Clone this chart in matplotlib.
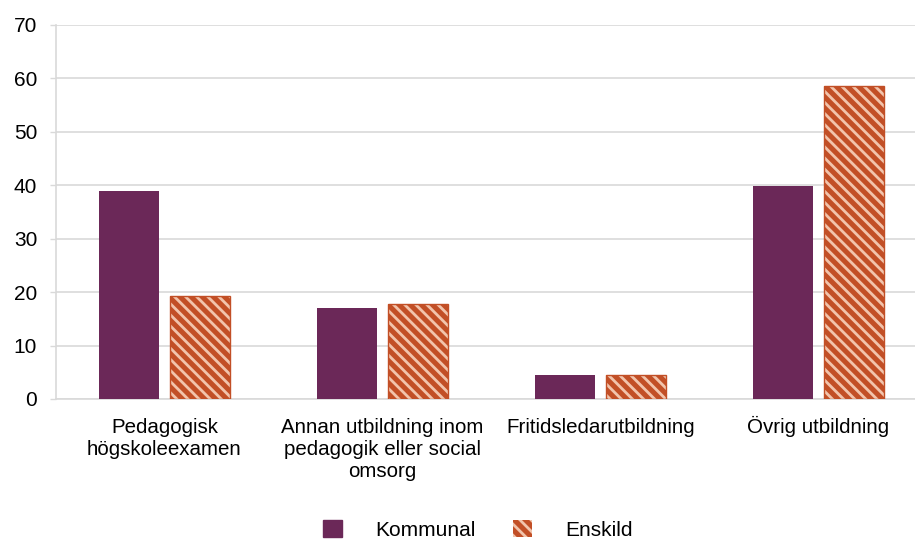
import matplotlib
matplotlib.use("Agg")
import matplotlib.pyplot as plt
import matplotlib.transforms as mtransforms
import numpy as np
from matplotlib.patches import Patch

plt.rcParams['font.family'] = ['Liberation Sans', 'DejaVu Sans']
plt.rcParams['hatch.linewidth'] = 2.0

categories = ["Pedagogisk\nhögskoleexamen",
              "Annan utbildning inom\npedagogik eller social\nomsorg",
              "Fritidsledarutbildning",
              "Övrig utbildning"]
kommunal = [39.0, 17.0, 4.5, 39.9]
enskild = [19.3, 17.8, 4.4, 58.6]
series_names = ["Kommunal", "Enskild"]
yticks = [0, 10, 20, 30, 40, 50, 60, 70]

purple = "#6B2858"
orange = "#C24F26"
stripe = "#F2C4AC"

fig = plt.figure(figsize=(9.15, 5.41), dpi=100)
ax = fig.add_axes([55.5/915, 1-399/541, 872/915, (399-25)/541])

x = np.arange(len(categories))
w = 0.275
off = 0.163
ax.bar(x - off, kommunal, w, color=purple, zorder=3)
ax.bar(x + off, enskild, w, color=orange, edgecolor=stripe, hatch='\\\\\\', linewidth=0, zorder=3)
ax.bar(x + off, enskild, w, color='none', edgecolor=orange, linewidth=1, zorder=4)

ax.set_xlim(-0.5, len(categories) - 0.5)
ax.set_ylim(0, 70)
ax.set_yticks(yticks)
ax.set_xticks(x)
ax.set_xticklabels(categories, fontsize=14.8, color="#000000", linespacing=1.18)
ax.tick_params(axis='y', labelsize=15, length=4.2, color="#D9D9D9", width=1, pad=9)
ax.tick_params(axis='x', length=0, pad=14)
for lbl in ax.get_xticklabels():
    if lbl.get_text().startswith("Ö"):
        lbl.set_transform(lbl.get_transform() +
                          mtransforms.ScaledTranslation(0, 2.5/100, fig.dpi_scale_trans))
ax.grid(axis='y', color="#D9D9D9", linewidth=1.2, zorder=0)
for s in ['top', 'right']:
    ax.spines[s].set_visible(False)
ax.spines['left'].set_color("#D9D9D9")
ax.spines['left'].set_linewidth(1.2)
ax.spines['bottom'].set_color("#D9D9D9")
ax.spines['bottom'].set_linewidth(1.2)

handles = [Patch(facecolor=purple, edgecolor=purple),
           Patch(facecolor=orange, edgecolor=stripe, hatch='\\\\\\', linewidth=0)]
fig.legend(handles, series_names, loc='center', bbox_to_anchor=(0.522, 0.021),
           ncol=2, frameon=False, fontsize=15, handlelength=0.9, handleheight=0.9,
           handletextpad=1.6, columnspacing=1.8, borderpad=0)

fig.savefig("out.png", dpi=100)
